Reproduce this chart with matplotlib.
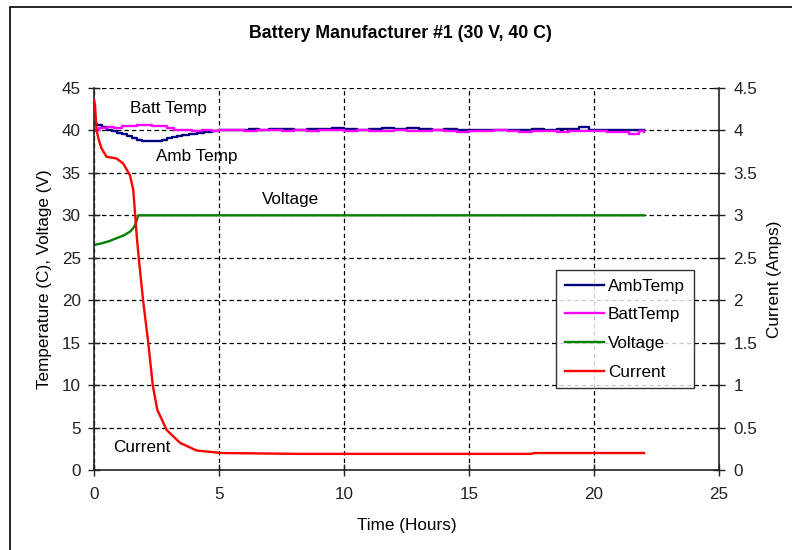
import matplotlib
matplotlib.use("Agg")
import matplotlib.pyplot as plt
from matplotlib.patches import Rectangle

plt.rcParams['font.family'] = ['Liberation Sans', 'DejaVu Sans']

# Time (hours) and readings for each channel
amb_time = [0, 0.1, 0.3, 0.5, 0.7, 0.9, 1.1, 1.3, 1.5, 1.7, 1.9, 2.1, 2.3, 2.5, 2.7,
            2.9, 3.1, 3.3, 3.5, 3.8, 4.1, 4.4, 4.7, 5.0, 5.4, 5.8, 6.2, 6.6, 7.0,
            7.5, 8.0, 8.5, 9.0, 9.5, 10.0, 10.5, 11.0, 11.5, 12.0, 12.5, 13.0,
            13.5, 14.0, 14.5, 15.0, 15.5, 16.0, 16.5, 17.0, 17.5, 18.0, 18.5,
            19.0, 19.4, 19.8, 20.2, 20.6, 21.0, 21.4, 21.8, 22.0]
amb_temp = [40.8, 40.6, 40.4, 40.1, 39.9, 39.7, 39.6, 39.4, 39.1, 38.9, 38.8, 38.7,
            38.7, 38.8, 38.9, 39.1, 39.2, 39.4, 39.5, 39.6, 39.7, 39.8, 39.9, 40.0,
            40.1, 40.1, 40.2, 40.1, 40.2, 40.2, 40.1, 40.2, 40.2, 40.3, 40.2, 40.1,
            40.2, 40.3, 40.2, 40.3, 40.2, 40.1, 40.2, 40.1, 40.1, 40.0, 40.1, 40.1,
            40.0, 40.2, 40.1, 40.2, 40.2, 40.4, 40.1, 40.0, 40.1, 40.0, 40.1, 40.0,
            40.0]

batt_time = [0, 0.2, 0.5, 0.8, 1.1, 1.4, 1.7, 2.0, 2.3, 2.6, 2.9, 3.2, 3.5, 3.9,
             4.3, 4.7, 5.0, 5.5, 6.0, 6.5, 7.0, 7.5, 8.0, 8.5, 9.0, 9.5, 10.0,
             10.5, 11.0, 11.5, 12.0, 12.5, 13.0, 13.5, 14.0, 14.5, 15.0, 15.5,
             16.0, 16.5, 17.0, 17.5, 18.0, 18.5, 19.0, 19.5, 20.0, 20.5, 21.0,
             21.4, 21.8, 22.0]
batt_temp = [40.1, 40.3, 40.4, 40.3, 40.5, 40.5, 40.7, 40.6, 40.5, 40.5, 40.3,
             40.1, 40.0, 39.9, 40.0, 39.9, 40.0, 40.0, 39.9, 40.0, 40.0, 39.9,
             40.0, 39.9, 40.0, 40.0, 39.9, 40.0, 39.9, 39.9, 40.0, 39.9, 39.9,
             40.0, 39.9, 39.8, 39.9, 39.9, 40.0, 39.9, 39.8, 39.9, 39.9, 39.8,
             39.9, 39.9, 39.9, 39.8, 39.8, 39.6, 39.9, 39.8]

volt_time = [0, 0.3, 0.6, 0.9, 1.2, 1.45, 1.6, 1.7, 1.77, 22.0]
voltage = [26.5, 26.7, 26.95, 27.3, 27.65, 28.1, 28.6, 29.3, 30.0, 30.0]

curr_time = [0, 0.04, 0.1, 0.2, 0.3, 0.5, 0.9, 1.17, 1.44, 1.57, 1.64, 1.71,
             1.81, 1.97, 2.17, 2.35, 2.53, 2.91, 3.44, 4.1, 5.1, 8.2, 17.5,
             17.6, 22.0]
current = [4.36, 4.3, 4.0, 3.88, 3.79, 3.69, 3.67, 3.61, 3.47, 3.30, 3.03, 2.75,
           2.44, 1.98, 1.50, 1.00, 0.71, 0.47, 0.32, 0.23, 0.20, 0.19, 0.19,
           0.20, 0.20]

left_ticks = [0, 5, 10, 15, 20, 25, 30, 35, 40, 45]
right_ticks = [0, 0.5, 1, 1.5, 2, 2.5, 3, 3.5, 4, 4.5]
right_labels = ['0', '0.5', '1', '1.5', '2', '2.5', '3', '3.5', '4', '4.5']
x_ticks = [0, 5, 10, 15, 20, 25]

W, H = 792, 550
FS = 12.3
fig = plt.figure(figsize=(W / 100, H / 100), dpi=100)

# chart frame (left and top edges visible)
fig.patches.append(Rectangle((10 / W, -0.05), 1.2, 1 - 7 / H + 0.05,
                             transform=fig.transFigure, fill=False,
                             edgecolor='black', linewidth=1.2))

ax = fig.add_axes([94 / W, 80 / H, 625 / W, 382 / H])
ax2 = ax.twinx()

navy = '#000080'
magenta = '#ff00ff'
green = '#008000'
red = '#ff0000'

l1, = ax.plot(amb_time, amb_temp, color=navy, lw=1.7, drawstyle='steps-post', label='AmbTemp')
l2, = ax.plot(batt_time, batt_temp, color=magenta, lw=1.7, drawstyle='steps-post', label='BattTemp')
l3, = ax.plot(volt_time, voltage, color=green, lw=1.7, label='Voltage')
l4, = ax2.plot(curr_time, current, color=red, lw=1.7, label='Current')

ax.set_xlim(0, 25)
ax.set_ylim(0, 45)
ax2.set_ylim(0, 4.5)
ax.set_xticks(x_ticks)
ax.set_yticks(left_ticks)
ax2.set_yticks(right_ticks)
ax2.set_yticklabels(right_labels)

ax.grid(True, color='black', linestyle=(0, (3.5, 2.5)), linewidth=0.9)
ax.set_axisbelow(True)

for a in (ax, ax2):
    a.spines['top'].set_visible(False)
    for s in a.spines.values():
        s.set_linewidth(1.2)
        s.set_color('#222222')
ax.spines['right'].set_visible(False)
ax2.spines['left'].set_visible(False)
ax2.spines['bottom'].set_visible(False)

ax.tick_params(axis='both', direction='inout', length=9, width=1, labelsize=FS, colors='#222222')
ax.tick_params(axis='y', pad=5)
ax.tick_params(axis='x', pad=8)
ax2.tick_params(axis='y', direction='inout', length=9, width=1, labelsize=FS, pad=6, colors='#222222')

ax.set_xlabel('Time (Hours)', fontsize=FS, labelpad=11)
ax.set_ylabel('Temperature (C), Voltage (V)', fontsize=FS, labelpad=7)
ax2.set_ylabel('Current (Amps)', fontsize=FS, rotation=90, labelpad=7)

fig.text(0.506, 1 - 33 / H, 'Battery Manufacturer #1 (30 V, 40 C)',
         ha='center', va='center', fontsize=12.8, fontweight='bold')

# in-plot labels
ax.text(1.45, 42.6, 'Batt Temp', fontsize=FS, va='center')
ax.text(2.5, 36.9, 'Amb Temp', fontsize=FS, va='center')
ax.text(6.7, 31.9, 'Voltage', fontsize=FS, va='center')
ax.text(0.75, 2.7, 'Current', fontsize=FS, va='center')

leg = ax2.legend(handles=[l1, l2, l3, l4], loc='upper left',
                 bbox_to_anchor=((556 - 94) / 625, (470 - 270) / 382),
                 fontsize=FS, frameon=True, fancybox=False, handlelength=2.3,
                 handletextpad=0.25, borderpad=0.5, labelspacing=0.8,
                 borderaxespad=0)
leg.get_frame().set_edgecolor('black')
leg.get_frame().set_linewidth(1.0)

fig.savefig('out.png', dpi=100)
